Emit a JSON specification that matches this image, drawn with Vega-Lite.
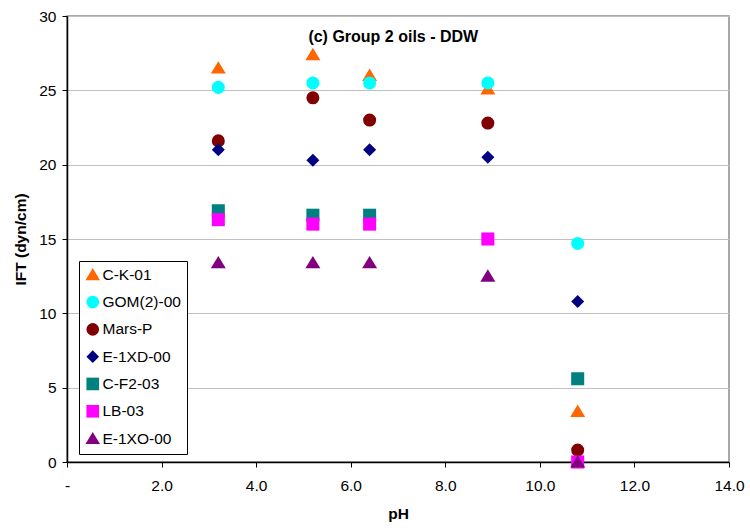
{
  "$schema": "https://vega.github.io/schema/vega-lite/v6.json",
  "width": 662,
  "height": 446,
  "autosize": {"type": "none"},
  "padding": {"left": 67, "top": 16, "right": 21, "bottom": 68},
  "background": "white",
  "config": {
    "font": "Liberation Sans",
    "view": {"stroke": "#8c8c8c", "strokeWidth": 1.5},
    "axis": {
      "labelFont": "Liberation Sans",
      "titleFont": "Liberation Sans",
      "labelFontSize": 15.5,
      "titleFontSize": 15.5,
      "labelColor": "black",
      "titleColor": "black",
      "domainColor": "black",
      "tickColor": "black",
      "domainWidth": 1.5,
      "tickSize": 5
    }
  },
  "datasets": {
    "pts": [
      {"oil": "C-K-01", "pH": 3.2, "IFT": 26.5},
      {"oil": "C-K-01", "pH": 5.2, "IFT": 27.4},
      {"oil": "C-K-01", "pH": 6.4, "IFT": 26.0},
      {"oil": "C-K-01", "pH": 8.9, "IFT": 25.1},
      {"oil": "C-K-01", "pH": 10.8, "IFT": 3.4},
      {"oil": "GOM(2)-00", "pH": 3.2, "IFT": 25.2},
      {"oil": "GOM(2)-00", "pH": 5.2, "IFT": 25.5},
      {"oil": "GOM(2)-00", "pH": 6.4, "IFT": 25.5},
      {"oil": "GOM(2)-00", "pH": 8.9, "IFT": 25.5},
      {"oil": "GOM(2)-00", "pH": 10.8, "IFT": 14.7},
      {"oil": "Mars-P", "pH": 3.2, "IFT": 21.6},
      {"oil": "Mars-P", "pH": 5.2, "IFT": 24.5},
      {"oil": "Mars-P", "pH": 6.4, "IFT": 23.0},
      {"oil": "Mars-P", "pH": 8.9, "IFT": 22.8},
      {"oil": "Mars-P", "pH": 10.8, "IFT": 0.8},
      {"oil": "E-1XD-00", "pH": 3.2, "IFT": 21.0},
      {"oil": "E-1XD-00", "pH": 5.2, "IFT": 20.3},
      {"oil": "E-1XD-00", "pH": 6.4, "IFT": 21.0},
      {"oil": "E-1XD-00", "pH": 8.9, "IFT": 20.5},
      {"oil": "E-1XD-00", "pH": 10.8, "IFT": 10.8},
      {"oil": "C-F2-03", "pH": 3.2, "IFT": 16.9},
      {"oil": "C-F2-03", "pH": 5.2, "IFT": 16.6},
      {"oil": "C-F2-03", "pH": 6.4, "IFT": 16.6},
      {"oil": "C-F2-03", "pH": 10.8, "IFT": 5.6},
      {"oil": "LB-03", "pH": 3.2, "IFT": 16.3},
      {"oil": "LB-03", "pH": 5.2, "IFT": 16.0},
      {"oil": "LB-03", "pH": 6.4, "IFT": 16.0},
      {"oil": "LB-03", "pH": 8.9, "IFT": 15.0},
      {"oil": "LB-03", "pH": 10.8, "IFT": 0.0},
      {"oil": "E-1XO-00", "pH": 3.2, "IFT": 13.4},
      {"oil": "E-1XO-00", "pH": 5.2, "IFT": 13.4},
      {"oil": "E-1XO-00", "pH": 6.4, "IFT": 13.4},
      {"oil": "E-1XO-00", "pH": 8.9, "IFT": 12.5},
      {"oil": "E-1XO-00", "pH": 10.8, "IFT": 0.0}
    ],
    "ttl": [{"label": "(c) Group 2 oils - DDW", "x": 6.9, "y": 28.6}]
  },
  "layer": [
    {
      "data": {"name": "pts"},
      "mark": {"type": "point", "filled": true, "opacity": 1, "size": 170, "strokeWidth": 0, "clip": false},
      "encoding": {
        "x": {
          "field": "pH", "type": "quantitative",
          "scale": {"domain": [0, 14], "nice": false, "zero": false},
          "axis": {
            "title": "pH", "values": [0, 2, 4, 6, 8, 10, 12, 14],
            "labelExpr": "datum.value == 0 ? '-' : format(datum.value, '.1f')",
            "grid": false, "labelPadding": 11, "titlePadding": 13, "labelFlush": false
          }
        },
        "y": {
          "field": "IFT", "type": "quantitative",
          "scale": {"domain": [0, 30], "nice": false},
          "axis": {
            "title": "IFT (dyn/cm)", "values": [0, 5, 10, 15, 20, 25, 30],
            "grid": true, "gridColor": "#c0c0c0", "gridWidth": 1.2,
            "labelPadding": 6, "titlePadding": 10, "labelFlush": false
          }
        },
        "color": {
          "field": "oil", "type": "nominal",
          "sort": ["C-K-01", "GOM(2)-00", "Mars-P", "E-1XD-00", "C-F2-03", "LB-03", "E-1XO-00"],
          "scale": {
            "domain": ["C-K-01", "GOM(2)-00", "Mars-P", "E-1XD-00", "C-F2-03", "LB-03", "E-1XO-00"],
            "range": ["#FF6600", "#00FFFF", "#800000", "#000080", "#008080", "#FF00FF", "#800080"]
          },
          "legend": {
            "title": null, "orient": "none", "legendX": 12, "legendY": 245,
            "labelFontSize": 15.5, "labelFont": "Liberation Sans", "labelColor": "black",
            "symbolSize": 160, "symbolStrokeWidth": 0, "rowPadding": 10.3,
            "padding": 6, "strokeColor": "black", "fillColor": "white",
            "labelOffset": 2, "symbolOpacity": 1
          }
        },
        "shape": {
          "field": "oil", "type": "nominal",
          "sort": ["C-K-01", "GOM(2)-00", "Mars-P", "E-1XD-00", "C-F2-03", "LB-03", "E-1XO-00"],
          "scale": {
            "domain": ["C-K-01", "GOM(2)-00", "Mars-P", "E-1XD-00", "C-F2-03", "LB-03", "E-1XO-00"],
            "range": ["M-1.15,0.85L0,-1.05L1.15,0.85Z", "circle", "circle", "diamond", "square", "square", "M-1.15,0.85L0,-1.05L1.15,0.85Z"]
          }
        }
      }
    },
    {
      "data": {"name": "ttl"},
      "mark": {"type": "text", "fontWeight": "bold", "fontSize": 16, "font": "Liberation Sans", "color": "black"},
      "encoding": {
        "x": {"field": "x", "type": "quantitative"},
        "y": {"field": "y", "type": "quantitative"},
        "text": {"field": "label"}
      }
    }
  ]
}
